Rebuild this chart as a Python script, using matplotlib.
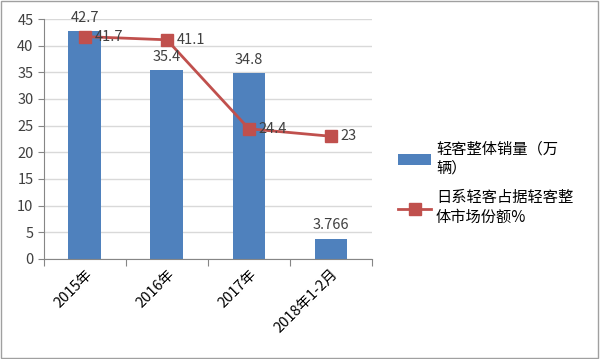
import matplotlib.pyplot as plt
import numpy as np

plt.rcParams['font.family'] = ['Noto Sans CJK SC', 'DejaVu Sans']

categories = ['2015年', '2016年', '2017年', '2018年1-2月']
sales = [42.7, 35.4, 34.8, 3.766]
share = [41.7, 41.1, 24.4, 23]
sales_labels = ['42.7', '35.4', '34.8', '3.766']
share_labels = ['41.7', '41.1', '24.4', '23']

fig = plt.figure(figsize=(6, 3.59), dpi=100)
ax = fig.add_axes([0.073, 0.279, 0.547, 0.668])
x = np.arange(len(categories))

bars = ax.bar(x, sales, width=0.4, color='#4f81bd', zorder=2, label='轻客整体销量（万\n辆）')
line, = ax.plot(x, share, color='#c0504d', lw=2, marker='s', ms=8, zorder=3,
                label='日系轻客占据轻客整\n体市场份额%')

for i in range(len(x)):
    ax.text(x[i], sales[i] + 1.2, sales_labels[i], ha='center', va='bottom', fontsize=10.5, color='#404040')
    ax.text(x[i] + 0.12, share[i], share_labels[i], ha='left', va='center', fontsize=10.5, color='#404040')

ax.set_xlim(-0.5, 3.5)
ax.set_ylim(0, 45)
ax.set_yticks(range(0, 46, 5))
ax.set_xticks(np.arange(-0.5, 3.6, 1), minor=False)
ax.set_xticklabels([])
ax.set_xticks(x, minor=True)
ax.set_xticklabels(categories, minor=True, rotation=45, ha='right', rotation_mode='anchor', fontsize=10.5)
ax.tick_params(axis='x', which='minor', length=0, pad=6)
ax.tick_params(axis='x', which='major', length=5, color='#868686')
ax.tick_params(axis='y', length=4, color='#868686', labelsize=10.5, labelcolor='#404040')
ax.grid(axis='y', color='#d9d9d9', lw=1, zorder=0)
for s in ['top', 'right']:
    ax.spines[s].set_visible(False)
ax.spines['left'].set_color('#868686')
ax.spines['bottom'].set_color('#868686')

fig.legend([bars, line], [bars.get_label(), line.get_label()], loc='center left',
           bbox_to_anchor=(0.64, 0.49), frameon=False, fontsize=11,
           handlelength=2.2, labelspacing=0.8, handletextpad=0.3)

fig.patches.append(plt.Rectangle((0.002, 0.003), 0.995, 0.994, transform=fig.transFigure,
                                 fill=False, edgecolor='#a0a0a0', lw=1))
fig.savefig('out.png', dpi=100)
